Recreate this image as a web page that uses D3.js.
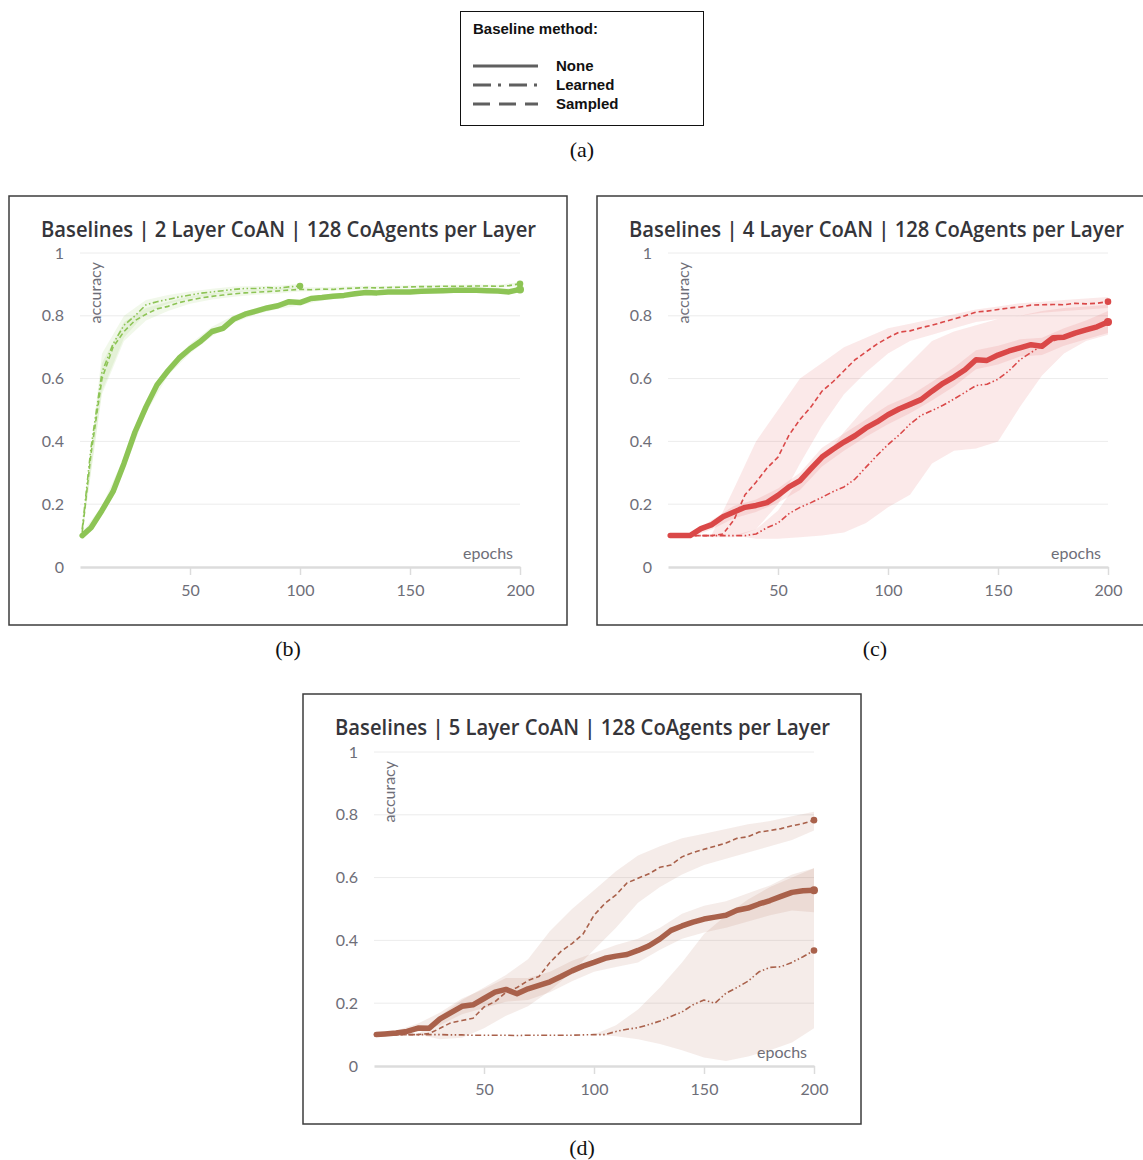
<!DOCTYPE html>
<html>
<head>
<meta charset="utf-8">
<script src="https://cdn.jsdelivr.net/npm/d3@7"></script>
<style>
  body { margin: 0; background: #fff; }
  svg { display: block; }
</style>
</head>
<body>
<div id="chart"></div>
<script>
// epoch grids (lines every 5 epochs, bands every 10)
const lineEpochs = [1, 5, 10, 15, 20, 25, 30, 35, 40, 45, 50, 55, 60, 65, 70, 75, 80, 85, 90, 95, 100,
  105, 110, 115, 120, 125, 130, 135, 140, 145, 150, 155, 160, 165, 170, 175, 180, 185, 190, 195, 200];
const bandEpochs = [1, 10, 20, 30, 40, 50, 60, 70, 80, 90, 100, 110, 120, 130, 140, 150, 160, 170, 180, 190, 200];
const yTicks = [0, 0.2, 0.4, 0.6, 0.8, 1];
const xTicks = [50, 100, 150, 200];
const methods = ["None", "Learned", "Sampled"];

// (b) 2 layer
const b_none = [0.10, 0.125, 0.18, 0.24, 0.33, 0.43, 0.51, 0.58, 0.625, 0.665, 0.695, 0.72, 0.75, 0.76, 0.79, 0.805, 0.815, 0.825, 0.832, 0.845, 0.842,
  0.855, 0.858, 0.862, 0.865, 0.87, 0.874, 0.873, 0.876, 0.876, 0.876, 0.878, 0.879, 0.88, 0.881, 0.881, 0.881, 0.88, 0.879, 0.876, 0.884];
const b_learned = [0.12, 0.38, 0.62, 0.71, 0.77, 0.80, 0.835, 0.845, 0.852, 0.86, 0.866, 0.872, 0.876, 0.88, 0.884, 0.887, 0.887, 0.89, 0.888, 0.892, 0.895];
const b_sampled = [0.11, 0.36, 0.60, 0.70, 0.75, 0.785, 0.805, 0.822, 0.83, 0.842, 0.85, 0.857, 0.862, 0.866, 0.87, 0.873, 0.875, 0.877, 0.879, 0.882, 0.884,
  0.883, 0.885, 0.884, 0.887, 0.888, 0.89, 0.889, 0.89, 0.891, 0.892, 0.893, 0.893, 0.894, 0.894, 0.894, 0.895, 0.895, 0.894, 0.896, 0.902];
const b_none_lo = [0.09, 0.165, 0.31, 0.49, 0.61, 0.68, 0.735, 0.778, 0.805, 0.822, 0.833, 0.849, 0.857, 0.866, 0.869, 0.869, 0.872, 0.874, 0.874, 0.872, 0.877];
const b_none_hi = [0.11, 0.195, 0.35, 0.53, 0.64, 0.71, 0.765, 0.802, 0.825, 0.842, 0.851, 0.867, 0.873, 0.882, 0.883, 0.883, 0.886, 0.888, 0.888, 0.886, 0.891];
const b_learned_lo = [0.10, 0.56, 0.73, 0.81, 0.838, 0.855, 0.866, 0.875, 0.879, 0.881, 0.888];
const b_learned_hi = [0.13, 0.68, 0.80, 0.85, 0.866, 0.877, 0.886, 0.893, 0.895, 0.896, 0.902];
const b_sampled_lo = [0.10, 0.55, 0.72, 0.785, 0.815, 0.838, 0.852, 0.861, 0.867, 0.871, 0.877, 0.879, 0.881, 0.884, 0.885, 0.887, 0.888, 0.889, 0.89, 0.889, 0.895];
const b_sampled_hi = [0.12, 0.65, 0.78, 0.825, 0.845, 0.862, 0.872, 0.879, 0.883, 0.887, 0.891, 0.891, 0.893, 0.896, 0.895, 0.897, 0.898, 0.899, 0.90, 0.899, 0.907];

// (c) 4 layer
const c_none = [0.10, 0.10, 0.10, 0.122, 0.135, 0.16, 0.175, 0.19, 0.196, 0.205, 0.228, 0.255, 0.275, 0.313, 0.35, 0.375, 0.398, 0.418, 0.443, 0.462, 0.485,
  0.503, 0.518, 0.533, 0.56, 0.585, 0.605, 0.628, 0.66, 0.658, 0.675, 0.688, 0.698, 0.708, 0.703, 0.73, 0.732, 0.745, 0.755, 0.765, 0.78];
const c_learned = [0.10, 0.10, 0.10, 0.10, 0.10, 0.10, 0.10, 0.10, 0.105, 0.125, 0.14, 0.17, 0.19, 0.205, 0.222, 0.24, 0.255, 0.28, 0.318, 0.355, 0.39,
  0.42, 0.455, 0.483, 0.498, 0.515, 0.535, 0.556, 0.578, 0.582, 0.598, 0.625, 0.66, 0.683, 0.705, 0.72, 0.733, 0.745, 0.755, 0.768, 0.78];
const c_sampled = [0.10, 0.10, 0.10, 0.10, 0.10, 0.105, 0.15, 0.23, 0.27, 0.315, 0.35, 0.42, 0.47, 0.51, 0.56, 0.59, 0.625, 0.66, 0.685, 0.71, 0.73,
  0.748, 0.752, 0.762, 0.77, 0.78, 0.79, 0.80, 0.812, 0.815, 0.82, 0.825, 0.828, 0.834, 0.835, 0.836, 0.835, 0.84, 0.838, 0.84, 0.845];
const c_none_lo = [0.095, 0.095, 0.12, 0.155, 0.175, 0.205, 0.245, 0.32, 0.37, 0.415, 0.455, 0.49, 0.53, 0.575, 0.63, 0.645, 0.67, 0.675, 0.705, 0.725, 0.745];
const c_none_hi = [0.105, 0.105, 0.15, 0.195, 0.215, 0.25, 0.30, 0.38, 0.425, 0.47, 0.515, 0.545, 0.59, 0.635, 0.69, 0.705, 0.725, 0.73, 0.76, 0.785, 0.815];
const c_learned_lo = [0.10, 0.10, 0.10, 0.10, 0.09, 0.09, 0.095, 0.10, 0.11, 0.14, 0.19, 0.23, 0.33, 0.37, 0.377, 0.40, 0.51, 0.61, 0.68, 0.72, 0.74];
const c_learned_hi = [0.10, 0.10, 0.10, 0.10, 0.12, 0.18, 0.28, 0.34, 0.43, 0.51, 0.58, 0.65, 0.72, 0.75, 0.77, 0.79, 0.80, 0.815, 0.825, 0.83, 0.835];
const c_sampled_lo = [0.10, 0.10, 0.095, 0.095, 0.12, 0.20, 0.33, 0.45, 0.55, 0.62, 0.68, 0.72, 0.74, 0.76, 0.78, 0.79, 0.80, 0.81, 0.815, 0.82, 0.825];
const c_sampled_hi = [0.10, 0.10, 0.105, 0.25, 0.40, 0.50, 0.60, 0.65, 0.70, 0.73, 0.76, 0.775, 0.79, 0.805, 0.82, 0.83, 0.84, 0.845, 0.85, 0.855, 0.86];

// (d) 5 layer
const d_none = [0.10, 0.102, 0.105, 0.11, 0.121, 0.12, 0.15, 0.17, 0.19, 0.195, 0.215, 0.235, 0.244, 0.23, 0.246, 0.257, 0.268, 0.285, 0.303, 0.318, 0.33,
  0.343, 0.35, 0.355, 0.368, 0.383, 0.405, 0.432, 0.446, 0.458, 0.468, 0.474, 0.48, 0.496, 0.503, 0.516, 0.527, 0.54, 0.553, 0.558, 0.56];
const d_learned = [0.10, 0.10, 0.10, 0.10, 0.10, 0.10, 0.10, 0.099, 0.099, 0.098, 0.098, 0.098, 0.098, 0.097, 0.098, 0.098, 0.098, 0.098, 0.098, 0.099, 0.10,
  0.10, 0.11, 0.117, 0.122, 0.132, 0.143, 0.158, 0.172, 0.195, 0.21, 0.20, 0.232, 0.25, 0.27, 0.30, 0.314, 0.316, 0.33, 0.348, 0.368];
const d_sampled = [0.10, 0.10, 0.10, 0.10, 0.10, 0.103, 0.12, 0.138, 0.145, 0.152, 0.188, 0.205, 0.235, 0.25, 0.272, 0.285, 0.33, 0.365, 0.39, 0.42, 0.48,
  0.518, 0.545, 0.583, 0.598, 0.612, 0.633, 0.64, 0.666, 0.68, 0.69, 0.70, 0.71, 0.725, 0.73, 0.745, 0.75, 0.756, 0.765, 0.772, 0.783];
const d_none_lo = [0.095, 0.098, 0.11, 0.13, 0.165, 0.185, 0.205, 0.21, 0.235, 0.27, 0.30, 0.315, 0.33, 0.37, 0.405, 0.425, 0.44, 0.46, 0.48, 0.495, 0.49];
const d_none_hi = [0.105, 0.112, 0.135, 0.17, 0.215, 0.245, 0.28, 0.28, 0.30, 0.335, 0.36, 0.385, 0.405, 0.44, 0.485, 0.51, 0.525, 0.55, 0.575, 0.61, 0.63];
const d_learned_lo = [0.10, 0.10, 0.10, 0.10, 0.10, 0.10, 0.10, 0.10, 0.10, 0.10, 0.10, 0.095, 0.085, 0.07, 0.05, 0.027, 0.016, 0.03, 0.05, 0.075, 0.12];
const d_learned_hi = [0.10, 0.10, 0.10, 0.10, 0.10, 0.10, 0.10, 0.10, 0.10, 0.10, 0.10, 0.13, 0.18, 0.25, 0.33, 0.42, 0.48, 0.53, 0.57, 0.60, 0.63];
const d_sampled_lo = [0.10, 0.10, 0.10, 0.085, 0.09, 0.12, 0.16, 0.19, 0.24, 0.30, 0.37, 0.44, 0.52, 0.57, 0.61, 0.64, 0.66, 0.68, 0.70, 0.72, 0.75];
const d_sampled_hi = [0.10, 0.10, 0.10, 0.16, 0.21, 0.25, 0.29, 0.34, 0.43, 0.50, 0.56, 0.62, 0.67, 0.70, 0.725, 0.74, 0.755, 0.77, 0.78, 0.795, 0.81];

const DASH = { None: null, Learned: "6,2.5,1.5,2.5,1.5,2.5", Sampled: "5,3" };
const WIDTH = { None: 5.5, Learned: 1.6, Sampled: 1.6 };
const TICK_COLOR = "#6e6e78";
const TICK_FONT = "Lato, 'Open Sans', sans-serif";

const panels = [
  { title: "Baselines | 2 Layer CoAN | 128 CoAgents per Layer", caption: "(b)", color: "#8dc455",
    box: [9, 196, 558, 429], xr: [80, 520], yr: [567, 253],
    lines: { None: b_none, Learned: b_learned, Sampled: b_sampled },
    lo: { None: b_none_lo, Learned: b_learned_lo, Sampled: b_sampled_lo },
    hi: { None: b_none_hi, Learned: b_learned_hi, Sampled: b_sampled_hi } },
  { title: "Baselines | 4 Layer CoAN | 128 CoAgents per Layer", caption: "(c)", color: "#da4848",
    box: [597, 196, 560, 429], xr: [668, 1108], yr: [567, 253],
    lines: { None: c_none, Learned: c_learned, Sampled: c_sampled },
    lo: { None: c_none_lo, Learned: c_learned_lo, Sampled: c_sampled_lo },
    hi: { None: c_none_hi, Learned: c_learned_hi, Sampled: c_sampled_hi } },
  { title: "Baselines | 5 Layer CoAN | 128 CoAgents per Layer", caption: "(d)", color: "#a9614b",
    box: [303, 694, 558, 430], xr: [374, 814], yr: [1066, 752],
    lines: { None: d_none, Learned: d_learned, Sampled: d_sampled },
    lo: { None: d_none_lo, Learned: d_learned_lo, Sampled: d_sampled_lo },
    hi: { None: d_none_hi, Learned: d_learned_hi, Sampled: d_sampled_hi } }
];
const captionPos = [[288, 656], [875, 656], [582, 1155]];

const svg = d3.select("#chart").append("svg").attr("width", 1143).attr("height", 1160);

// legend (a)
const lg = svg.append("g");
lg.append("rect").attr("x", 460.5).attr("y", 11.5).attr("width", 243).attr("height", 114)
  .attr("fill", "#fff").attr("stroke", "#111").attr("stroke-width", 1);
lg.append("text").attr("x", 473).attr("y", 34).text("Baseline method:")
  .attr("font-family", "'Liberation Sans', Arial, sans-serif").attr("font-weight", "bold")
  .attr("font-size", 15).attr("fill", "#111");
const legendDash = { None: null, Learned: "18,7,3,8", Sampled: "17,9" };
methods.forEach(function (m, i) {
  let y = 66 + i * 19;
  lg.append("line").attr("x1", 473).attr("x2", 538).attr("y1", y).attr("y2", y)
    .attr("stroke", "#5f5f5f").attr("stroke-width", 3)
    .attr("stroke-dasharray", legendDash[m]);
  lg.append("text").attr("x", 556).attr("y", y + 5).text(m)
    .attr("font-family", "'Liberation Sans', Arial, sans-serif").attr("font-weight", "bold")
    .attr("font-size", 15).attr("fill", "#111");
});
svg.append("text").attr("x", 582).attr("y", 157).attr("text-anchor", "middle").text("(a)")
  .attr("font-family", "'Liberation Serif', 'DejaVu Serif', serif").attr("font-size", 22).attr("fill", "#111");

panels.forEach(function (p, pi) {
  let g = svg.append("g");
  let x = d3.scaleLinear().domain([0, 200]).range(p.xr);
  let y = d3.scaleLinear().domain([0, 1]).range(p.yr);

  g.append("rect").attr("x", p.box[0]).attr("y", p.box[1]).attr("width", p.box[2]).attr("height", p.box[3])
    .attr("fill", "#fff").attr("stroke", "#3c3c3c").attr("stroke-width", 1.5);

  g.append("text").attr("x", p.box[0] + 32).attr("y", p.box[1] + 41).text(p.title)
    .attr("font-family", "'Open Sans', 'Noto Sans', sans-serif").attr("font-weight", 600)
    .attr("font-size", 21).attr("fill", "#35353a")
    .attr("textLength", 495).attr("lengthAdjust", "spacingAndGlyphs");

  // gridlines
  g.selectAll(".grid").data(yTicks.filter(function (t) { return t > 0; })).join("line")
    .attr("x1", p.xr[0]).attr("x2", p.xr[1])
    .attr("y1", function (d) { return y(d); }).attr("y2", function (d) { return y(d); })
    .attr("stroke", "#ececec").attr("stroke-width", 1);

  // y axis labels
  let yAxis = d3.axisLeft(y).tickValues(yTicks).tickSize(0).tickPadding(16)
    .tickFormat(function (d) { return d === 0 || d === 1 ? String(d) : d3.format(".1f")(d); });
  let ya = g.append("g").attr("transform", "translate(" + p.xr[0] + ",0)").call(yAxis);
  ya.select(".domain").remove();
  ya.selectAll("text").attr("font-family", TICK_FONT).attr("font-size", 16).attr("fill", TICK_COLOR);

  // x axis
  let xAxis = d3.axisBottom(x).tickValues(xTicks).tickSize(8).tickPadding(10).tickSizeOuter(0);
  let xa = g.append("g").attr("transform", "translate(0," + p.yr[0] + ")").call(xAxis);
  xa.select(".domain").attr("stroke", "#dcdcdc").attr("stroke-width", 2.5);
  xa.selectAll(".tick line").attr("stroke", "#dcdcdc").attr("stroke-width", 1.5);
  xa.selectAll("text").attr("font-family", TICK_FONT).attr("font-size", 16).attr("fill", TICK_COLOR);

  g.append("text").attr("x", p.xr[1] - 7).attr("y", p.yr[0] - 8).attr("text-anchor", "end").text("epochs")
    .attr("font-family", TICK_FONT).attr("font-size", 16).attr("fill", TICK_COLOR);
  g.append("text").attr("transform", "translate(" + (p.xr[0] + 21) + "," + (p.yr[1] + 9) + ") rotate(-90)")
    .attr("text-anchor", "end").text("accuracy")
    .attr("font-family", TICK_FONT).attr("font-size", 16).attr("fill", TICK_COLOR);

  // bands
  let area = d3.area()
    .x(function (d) { return x(d[0]); })
    .y0(function (d) { return y(d[1]); })
    .y1(function (d) { return y(d[2]); });
  methods.forEach(function (m) {
    let rows = p.lo[m].map(function (v, i) { return [bandEpochs[i], v, p.hi[m][i]]; });
    g.append("path").attr("d", area(rows)).attr("fill", p.color).attr("fill-opacity", 0.12);
  });

  // lines
  let line = d3.line()
    .x(function (d) { return x(d[0]); })
    .y(function (d) { return y(d[1]); });
  ["Learned", "Sampled", "None"].forEach(function (m) {
    let rows = p.lines[m].map(function (v, i) { return [lineEpochs[i], v]; });
    g.append("path").attr("d", line(rows)).attr("fill", "none")
      .attr("stroke", p.color).attr("stroke-width", WIDTH[m])
      .attr("stroke-dasharray", DASH[m])
      .attr("stroke-linejoin", "round").attr("stroke-linecap", m === "None" ? "round" : "butt");
    let last = rows[rows.length - 1];
    g.append("circle").attr("cx", x(last[0])).attr("cy", y(last[1]))
      .attr("r", m === "None" ? 4 : 3.3).attr("fill", p.color);
  });

  svg.append("text").attr("x", captionPos[pi][0]).attr("y", captionPos[pi][1]).attr("text-anchor", "middle")
    .text(p.caption)
    .attr("font-family", "'Liberation Serif', 'DejaVu Serif', serif").attr("font-size", 22).attr("fill", "#111");
});
</script>
</body>
</html>
